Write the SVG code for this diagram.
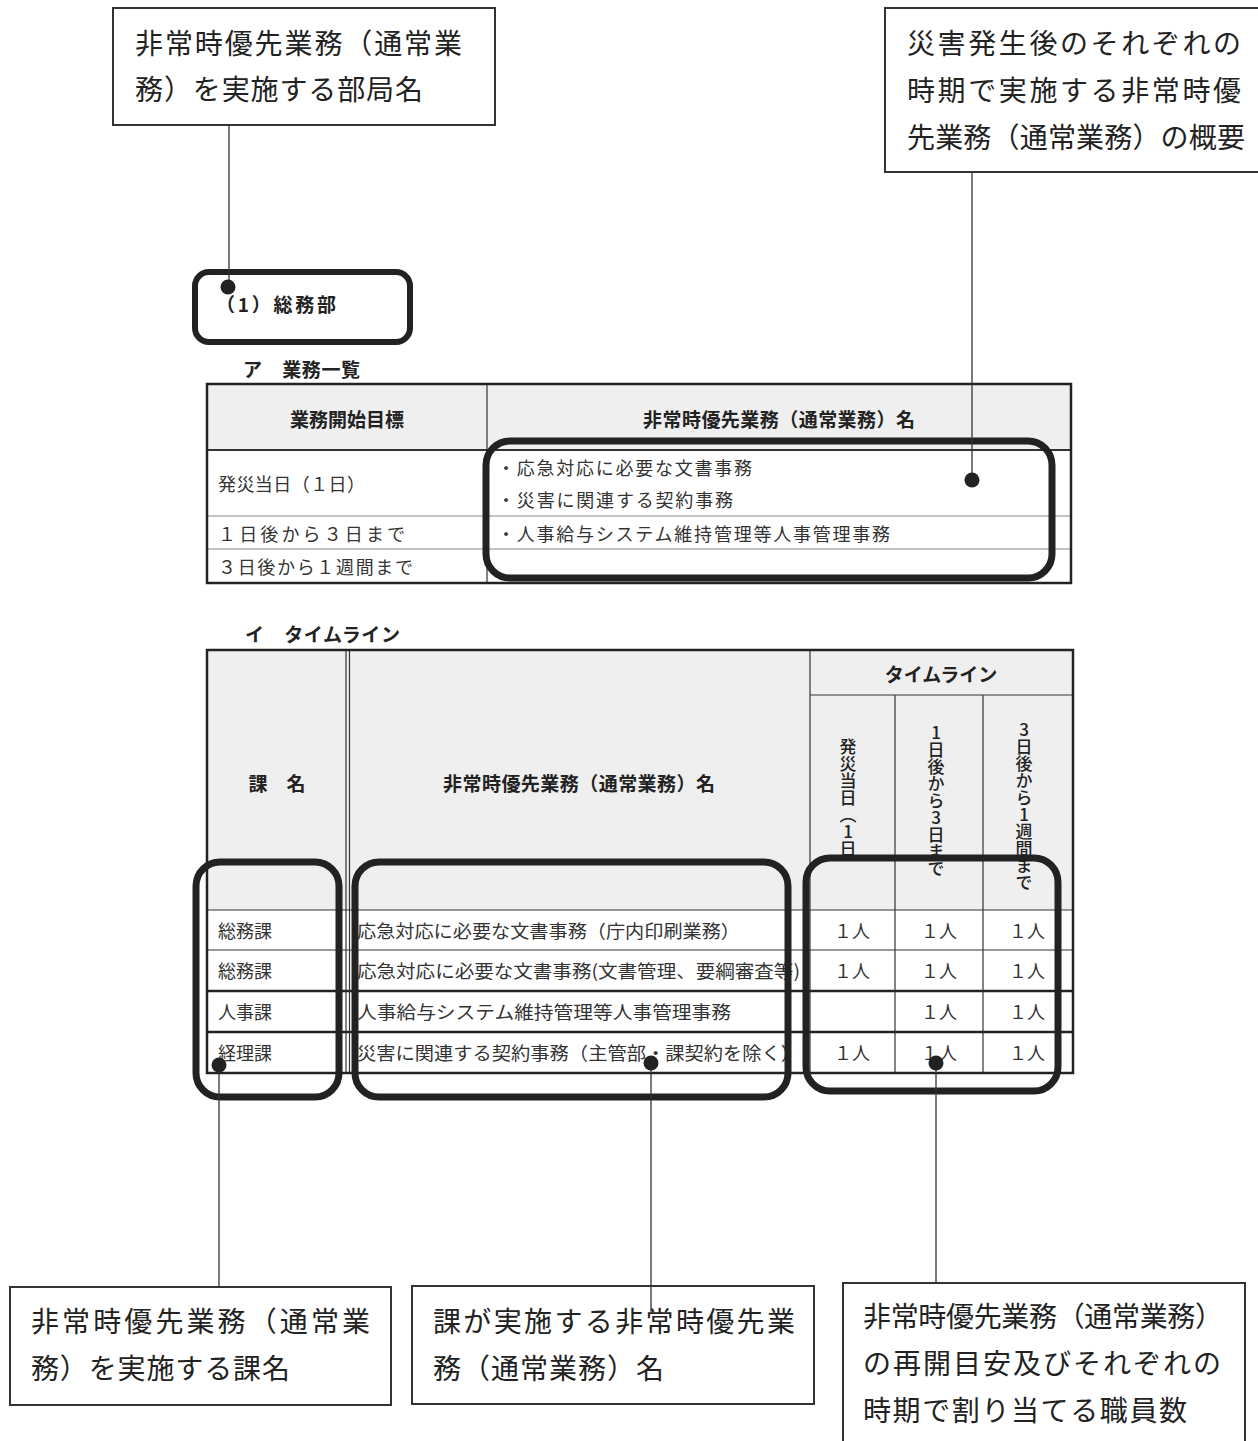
<svg xmlns="http://www.w3.org/2000/svg" width="1258" height="1441" viewBox="0 0 1258 1441">
<style>
text{font-family:"Noto Sans CJK JP","Noto Sans CJK SC",sans-serif;fill:#222}
.call{fill:#fff;stroke:#333;stroke-width:2}
.ct{font-size:28px;fill:#222}
.hl{fill:none;stroke:#222;stroke-width:7}
.th{font-size:19px;font-weight:bold;fill:#222}
.tb{font-size:18px;fill:#333}
.vt{font-size:17px;font-weight:500;fill:#222;writing-mode:vertical-rl;text-orientation:upright}
.st{font-size:19px;font-weight:bold;fill:#222}
.hd{fill:#efefef}
.ln{stroke:#333;stroke-width:1.2}
.lg{stroke:#888;stroke-width:1.2}
.lb{stroke:#222;stroke-width:2.5}
.cn{stroke:#333;stroke-width:1.3}
.dot{fill:#222}
.c{text-anchor:middle}
</style>

<!-- Callout: dept name -->
<g id="callout-dept">
<rect class="call" x="113" y="8" width="382" height="117"/>
<text class="ct" x="135" y="54" textLength="327" lengthAdjust="spacing">非常時優先業務（通常業</text>
<text class="ct" x="135" y="100" textLength="288" lengthAdjust="spacing">務）を実施する部局名</text>
</g>

<!-- Callout: overview -->
<g id="callout-overview">
<rect class="call" x="885" y="8" width="390" height="164"/>
<text class="ct" x="907" y="54" textLength="334" lengthAdjust="spacing">災害発生後のそれぞれの</text>
<text class="ct" x="907" y="101" textLength="334" lengthAdjust="spacing">時期で実施する非常時優</text>
<text class="ct" x="907" y="148" textLength="338" lengthAdjust="spacing">先業務（通常業務）の概要</text>
</g>

<!-- Section titles -->
<g id="section-title">
<text class="st" x="216" y="303" dominant-baseline="central" textLength="120" lengthAdjust="spacing">（1）総務部</text>
<text class="st" x="243" y="368" dominant-baseline="central" textLength="117" lengthAdjust="spacing">ア　業務一覧</text>
<text class="st" x="245" y="633" dominant-baseline="central" textLength="155" lengthAdjust="spacing">イ　タイムライン</text>
</g>

<!-- Table 1 -->
<g id="table-list">
<rect x="207" y="384" width="864" height="66" class="hd"/>
<rect x="207" y="450" width="864" height="133" fill="#fff"/>
<line class="lg" x1="207" y1="516" x2="1071" y2="516"/>
<line class="lg" x1="207" y1="549" x2="1071" y2="549"/>
<line class="ln" x1="207" y1="450" x2="1071" y2="450" style="stroke-width:1.8"/>
<line class="ln" x1="487" y1="384" x2="487" y2="583"/>
<rect x="207" y="384" width="864" height="199" fill="none" stroke="#222" stroke-width="2.5"/>
<text class="th c" x="347" y="418" dominant-baseline="central">業務開始目標</text>
<text class="th c" x="779" y="418" dominant-baseline="central" textLength="272" lengthAdjust="spacing">非常時優先業務（通常業務）名</text>
<text class="tb" x="218" y="483" dominant-baseline="central" textLength="147" lengthAdjust="spacing">発災当日（１日）</text>
<text class="tb" x="218" y="533" dominant-baseline="central" textLength="187" lengthAdjust="spacing">１日後から３日まで</text>
<text class="tb" x="218" y="566" dominant-baseline="central" textLength="195" lengthAdjust="spacing">３日後から１週間まで</text>
<text class="tb" x="497" y="467" dominant-baseline="central" textLength="255" lengthAdjust="spacing">・応急対応に必要な文書事務</text>
<text class="tb" x="497" y="499" dominant-baseline="central" textLength="236" lengthAdjust="spacing">・災害に関連する契約事務</text>
<text class="tb" x="497" y="533" dominant-baseline="central" textLength="393" lengthAdjust="spacing">・人事給与システム維持管理等人事管理事務</text>
</g>

<!-- Table 2 -->
<g id="table-timeline">
<rect x="207" y="650" width="866" height="260" class="hd"/>
<rect x="207" y="910" width="866" height="163" fill="#fff"/>
<line class="ln" x1="810" y1="695" x2="1073" y2="695"/>
<line class="ln" x1="207" y1="910" x2="1073" y2="910"/>
<line class="ln" x1="207" y1="950" x2="1073" y2="950"/>
<line class="lb" x1="207" y1="991" x2="1073" y2="991"/>
<line class="lb" x1="207" y1="1032" x2="1073" y2="1032"/>
<line class="ln" x1="346" y1="650" x2="346" y2="1073"/>
<line class="ln" x1="349.5" y1="650" x2="349.5" y2="1073"/>
<line class="ln" x1="810" y1="650" x2="810" y2="1073"/>
<line class="ln" x1="895" y1="695" x2="895" y2="1073"/>
<line class="ln" x1="983" y1="695" x2="983" y2="1073"/>
<rect x="207" y="650" width="866" height="423" fill="none" stroke="#222" stroke-width="2.5"/>
<text class="th c" x="277" y="782" dominant-baseline="central">課　名</text>
<text class="th c" x="579" y="782" dominant-baseline="central" textLength="272" lengthAdjust="spacing">非常時優先業務（通常業務）名</text>
<text class="th c" x="941" y="673" dominant-baseline="central">タイムライン</text>
<text class="vt" x="848" y="738">発災当日（1日</text>
<text class="vt" x="936" y="724">1日後から3日まで</text>
<text class="vt" x="1024" y="721">3日後から1週間まで</text>
<text class="tb" x="218" y="930" dominant-baseline="central">総務課</text>
<text class="tb" x="218" y="970" dominant-baseline="central">総務課</text>
<text class="tb" x="218" y="1011" dominant-baseline="central">人事課</text>
<text class="tb" x="218" y="1052" dominant-baseline="central">経理課</text>
<text class="tb" x="357" y="930" dominant-baseline="central" textLength="383" lengthAdjust="spacingAndGlyphs">応急対応に必要な文書事務（庁内印刷業務）</text>
<text class="tb" x="357" y="970" dominant-baseline="central" textLength="443" lengthAdjust="spacingAndGlyphs">応急対応に必要な文書事務(文書管理、要綱審査等)</text>
<text class="tb" x="357" y="1011" dominant-baseline="central" textLength="374" lengthAdjust="spacingAndGlyphs">人事給与システム維持管理等人事管理事務</text>
<text class="tb" x="357" y="1052" dominant-baseline="central" textLength="443" lengthAdjust="spacingAndGlyphs">災害に関連する契約事務（主管部・課契約を除く）</text>
<text class="tb c" x="852" y="930" dominant-baseline="central">１人</text>
<text class="tb c" x="939" y="930" dominant-baseline="central">１人</text>
<text class="tb c" x="1027" y="930" dominant-baseline="central">１人</text>
<text class="tb c" x="852" y="970" dominant-baseline="central">１人</text>
<text class="tb c" x="939" y="970" dominant-baseline="central">１人</text>
<text class="tb c" x="1027" y="970" dominant-baseline="central">１人</text>
<text class="tb c" x="939" y="1011" dominant-baseline="central">１人</text>
<text class="tb c" x="1027" y="1011" dominant-baseline="central">１人</text>
<text class="tb c" x="852" y="1052" dominant-baseline="central">１人</text>
<text class="tb c" x="939" y="1052" dominant-baseline="central">１人</text>
<text class="tb c" x="1027" y="1052" dominant-baseline="central">１人</text>
</g>

<!-- Highlight frames -->
<g id="highlights">
<rect class="hl" x="195" y="272" width="215" height="70" rx="14" style="stroke-width:6"/>
<rect class="hl" x="486" y="441" width="566" height="137" rx="24"/>
<rect class="hl" x="196" y="862" width="143" height="235" rx="24"/>
<rect class="hl" x="355" y="862" width="433" height="235" rx="24"/>
<rect class="hl" x="806" y="858" width="252" height="233" rx="24"/>
</g>

<!-- Bottom callouts -->
<g id="callout-section">
<rect class="call" x="10" y="1287" width="381" height="118"/>
<text class="ct" x="31" y="1332" textLength="339" lengthAdjust="spacing">非常時優先業務（通常業</text>
<text class="ct" x="31" y="1379" textLength="259" lengthAdjust="spacing">務）を実施する課名</text>
</g>
<g id="callout-task">
<rect class="call" x="412" y="1286" width="402" height="118"/>
<text class="ct" x="433" y="1332" textLength="362" lengthAdjust="spacing">課が実施する非常時優先業</text>
<text class="ct" x="433" y="1379" textLength="231" lengthAdjust="spacing">務（通常業務）名</text>
</g>
<g id="callout-staff">
<rect class="call" x="843" y="1283" width="402" height="200"/>
<text class="ct" x="863" y="1327" textLength="360" lengthAdjust="spacing">非常時優先業務（通常業務）</text>
<text class="ct" x="863" y="1374" textLength="358" lengthAdjust="spacing">の再開目安及びそれぞれの</text>
<text class="ct" x="863" y="1421" textLength="324" lengthAdjust="spacing">時期で割り当てる職員数</text>
</g>

<!-- Connectors -->
<g id="connectors">
<line class="cn" x1="229" y1="125" x2="229" y2="287"/>
<circle class="dot" cx="228" cy="287" r="7.5"/>
<line class="cn" x1="972" y1="172" x2="972" y2="480"/>
<circle class="dot" cx="972" cy="480" r="7.5"/>
<line class="cn" x1="219" y1="1065" x2="219" y2="1287"/>
<circle class="dot" cx="219" cy="1065" r="7.5"/>
<line class="cn" x1="651" y1="1063" x2="651" y2="1312"/>
<circle class="dot" cx="651" cy="1063" r="7.5"/>
<line class="cn" x1="936" y1="1063" x2="936" y2="1283"/>
<circle class="dot" cx="936" cy="1063" r="7.5"/>
</g>
</svg>
